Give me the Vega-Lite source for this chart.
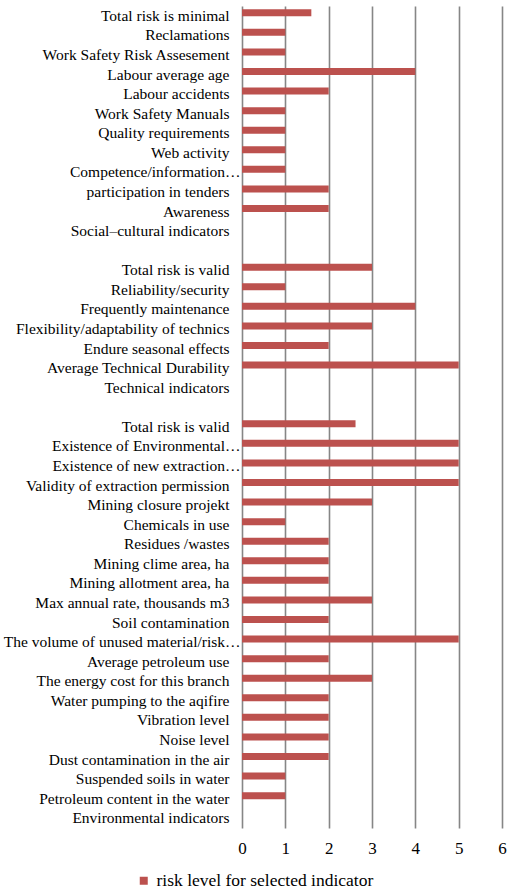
{
  "$schema": "https://vega.github.io/schema/vega-lite/v6.json",
  "width": 260,
  "height": 822,
  "autosize": {"type": "none"},
  "padding": {"left": 242, "top": 6, "right": 5, "bottom": 64},
  "background": "white",
  "data": {
    "values": [
      {"indicator": "Total risk is minimal", "risk": 1.6},
      {"indicator": "Reclamations", "risk": 1},
      {"indicator": "Work Safety Risk Assesement ", "risk": 1},
      {"indicator": "Labour average age", "risk": 4},
      {"indicator": "Labour accidents", "risk": 2},
      {"indicator": "Work Safety Manuals", "risk": 1},
      {"indicator": "Quality requirements ", "risk": 1},
      {"indicator": "Web activity", "risk": 1},
      {"indicator": "Competence/information…", "risk": 1},
      {"indicator": "participation in tenders", "risk": 2},
      {"indicator": "Awareness", "risk": 2},
      {"indicator": "Social–cultural indicators", "risk": null},
      {"indicator": " ", "risk": null},
      {"indicator": "Total risk is valid", "risk": 3},
      {"indicator": "Reliability/security", "risk": 1},
      {"indicator": "Frequently maintenance", "risk": 4},
      {"indicator": "Flexibility/adaptability of technics ", "risk": 3},
      {"indicator": "Endure seasonal effects", "risk": 2},
      {"indicator": "Average Technical Durability", "risk": 5},
      {"indicator": "Technical indicators", "risk": null},
      {"indicator": "  ", "risk": null},
      {"indicator": "Total risk is valid ", "risk": 2.62},
      {"indicator": "Existence of Environmental…", "risk": 5},
      {"indicator": "Existence of new extraction…", "risk": 5},
      {"indicator": "Validity of extraction permission", "risk": 5},
      {"indicator": "Mining closure projekt", "risk": 3},
      {"indicator": "Chemicals in use", "risk": 1},
      {"indicator": "Residues /wastes", "risk": 2},
      {"indicator": "Mining clime area, ha", "risk": 2},
      {"indicator": "Mining allotment area, ha", "risk": 2},
      {"indicator": "Max annual rate, thousands m3", "risk": 3},
      {"indicator": "Soil contamination", "risk": 2},
      {"indicator": "The volume of unused material/risk…", "risk": 5},
      {"indicator": "Average petroleum use", "risk": 2},
      {"indicator": "The energy cost for this branch", "risk": 3},
      {"indicator": "Water pumping to the aqifire", "risk": 2},
      {"indicator": "Vibration level", "risk": 2},
      {"indicator": "Noise level", "risk": 2},
      {"indicator": "Dust contamination in the air", "risk": 2},
      {"indicator": "Suspended soils in water", "risk": 1},
      {"indicator": "Petroleum content in the water", "risk": 1},
      {"indicator": "Environmental indicators", "risk": null}
    ]
  },
  "mark": {"type": "bar", "height": 7, "yOffset": -3, "invalid": "show"},
  "encoding": {
    "y": {
      "field": "indicator",
      "type": "nominal",
      "sort": null,
      "scale": {"paddingInner": 0, "paddingOuter": 0},
      "axis": {
        "title": null,
        "ticks": false,
        "domain": false,
        "labelPadding": {"condition": {"test": "indexof(datum.value, '…') >= 0", "value": 2}, "value": 13},
        "labelFont": "Liberation Serif, serif",
        "labelFontSize": 15.5,
        "labelColor": "black",
        "labelLimit": 400
      }
    },
    "x": {
      "field": "risk",
      "type": "quantitative",
      "scale": {"domain": [0, 6], "nice": false},
      "axis": {
        "title": null,
        "values": [0, 1, 2, 3, 4, 5, 6],
        "ticks": false,
        "domain": false,
        "grid": true,
        "gridColor": "#868686",
        "gridWidth": 1.6,
        "gridOpacity": 1,
        "labelPadding": 12,
        "labelFont": "Liberation Serif, serif",
        "labelFontSize": 17,
        "labelColor": "black",
        "labelFlush": false
      }
    },
    "color": {
      "datum": "risk level for selected indicator",
      "scale": {"range": ["#BC514E"]},
      "legend": {
        "title": null,
        "orient": "none",
        "legendX": -107,
        "legendY": 866,
        "symbolType": "square",
        "symbolSize": 64,
        "labelFont": "Liberation Serif, serif",
        "labelFontSize": 17.5,
        "labelColor": "black",
        "labelLimit": 400
      }
    }
  },
  "config": {"view": {"stroke": null}}
}
